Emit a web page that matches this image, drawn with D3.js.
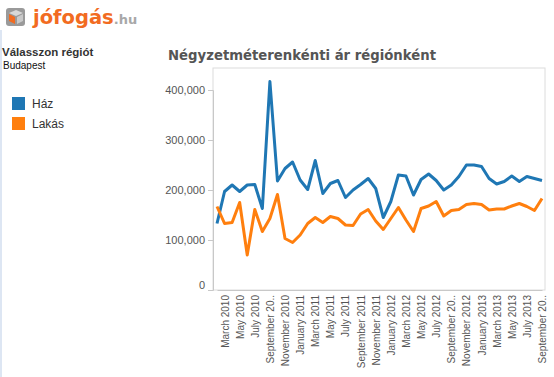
<!DOCTYPE html>
<html lang="hu">
<head>
  <meta charset="UTF-8">
  <title>Négyzetméterenkénti ár régiónként</title>
  <script src="https://d3js.org/d3.v7.min.js"></script>
  <style>
    body { margin: 0; background: #fff; }
    .tick text { font-family: "Liberation Sans", Arial, sans-serif; fill: #555; }
    .title { font-family: "DejaVu Sans", Verdana, sans-serif; font-weight: bold; font-size: 14px; fill: #555; }
  </style>
</head>
<body>
  <div id="chart"></div>
  <script>
    // months from February 2010 to September 2013
    const months = d3.timeMonths(new Date(2010, 1, 1), new Date(2013, 9, 1));

    const haz = [133, 197, 210, 197, 210, 211, 163, 417, 218, 243, 256, 220, 201, 259, 193,
                 213, 219, 185, 200, 211, 223, 203, 145, 177, 230, 228, 190, 221, 232, 219,
                 200, 210, 227, 250, 250, 247, 223, 212, 217, 228, 217, 227, 223, 219].map(v => v * 1000);

    const lakas = [167, 133, 135, 175, 70, 161, 117, 143, 191, 103, 95, 110, 133, 145, 135,
                   147, 143, 130, 129, 152, 161, 138, 121, 143, 165, 140, 117, 163, 168, 177,
                   148, 159, 161, 171, 173, 171, 160, 162, 162, 168, 173, 167, 159, 183].map(v => v * 1000);

    const yTicks = [0, 100000, 200000, 300000, 400000];

    const seriesNames = ["Ház", "Lakás"];
    const colors = ["#1f77b4", "#ff7f0e"];

    // Tableau cuts some labels short
    const fmtMonth = d3.timeFormat("%B %Y");
    const cut = new Set(["2010-08", "2012-08", "2013-08"]);
    function monthLabel(d) {
      const key = d.getFullYear() + "-" + String(d.getMonth()).padStart(2, "0");
      return cut.has(key) ? "September 20.." : fmtMonth(d);
    }

    const width = 554, height = 377;
    const svg = d3.select("#chart").append("svg")
      .attr("width", width).attr("height", height);

    // thin stripe on the left edge
    svg.append("rect").attr("x", 0).attr("y", 30).attr("width", 2).attr("height", height - 30)
      .attr("fill", "#dde6f3");

    // logo
    const logo = svg.append("g").attr("transform", "translate(5,4)");
    logo.append("rect").attr("x", 1).attr("y", 4).attr("width", 19).attr("height", 18)
      .attr("rx", 3).attr("fill", "#9a9a9a");
    logo.append("path").attr("d", "M4 9 L11 6 L18 9 L11 12 Z").attr("fill", "#d8d8d8");
    logo.append("path").attr("d", "M4 10 L10 13 L10 20 L4 17 Z").attr("fill", "#f26b21");
    logo.append("path").attr("d", "M12 13 L18 10 L18 17 L12 20 Z").attr("fill", "#c9c9c9");
    const logoText = logo.append("text").attr("x", 28).attr("y", 20)
      .style("font-family", "'DejaVu Sans', sans-serif").style("font-weight", "bold");
    logoText.append("tspan").attr("fill", "#f26b21").style("font-size", "19.5px").text("jófogás");
    logoText.append("tspan").attr("fill", "#a8a8a8").style("font-size", "13px").text(".hu");

    // region selector
    svg.append("text").attr("x", 2).attr("y", 56)
      .style("font-family", "'Liberation Sans', Arial, sans-serif").style("font-size", "11.5px")
      .style("font-weight", "bold").attr("fill", "#333").text("Válasszon régiót");
    svg.append("text").attr("x", 3).attr("y", 69)
      .style("font-family", "'Liberation Sans', Arial, sans-serif").style("font-size", "10px")
      .attr("fill", "#111").text("Budapest");

    // legend
    const legend = svg.append("g").attr("transform", "translate(12,97)");
    seriesNames.forEach((name, i) => {
      legend.append("rect").attr("x", 0).attr("y", i * 20).attr("width", 13).attr("height", 13)
        .attr("fill", colors[i]);
      legend.append("text").attr("x", 20).attr("y", i * 20 + 11)
        .style("font-family", "'Liberation Sans', Arial, sans-serif").style("font-size", "12px")
        .attr("fill", "#333").text(name);
    });

    // title
    svg.append("text").attr("class", "title").attr("x", 168).attr("y", 60)
      .attr("textLength", 268).attr("lengthAdjust", "spacingAndGlyphs")
      .text("Négyzetméterenkénti ár régiónként");

    const plot = { left: 213, right: 545, top: 68, bottom: 290 };

    const x = d3.scalePoint()
      .domain(months.map(d => +d))
      .range([plot.left + 4, plot.right - 3]);

    const y = d3.scaleLinear()
      .domain([0, 400000])
      .range([plot.bottom, plot.bottom - 200]);

    // frame
    svg.append("rect")
      .attr("x", plot.left).attr("y", plot.top)
      .attr("width", plot.right - plot.left).attr("height", plot.bottom - plot.top)
      .attr("fill", "none").attr("stroke", "#dcdcdc");

    // y axis
    const yAxis = svg.append("g")
      .attr("transform", `translate(${plot.left},0)`)
      .call(d3.axisLeft(y).tickValues(yTicks).tickSize(5).tickPadding(3)
        .tickFormat(d3.format(",")));
    yAxis.select(".domain").attr("stroke", "#c8c8c8");
    yAxis.selectAll(".tick line").attr("stroke", "#c8c8c8");
    yAxis.selectAll(".tick text").style("font-size", "11px");
    yAxis.selectAll(".tick").filter(d => d === 0).select("text").attr("dy", "-0.1em");

    // x axis, every second month labelled
    const labelled = months.filter((d, i) => i % 2 === 1).map(d => +d);
    const xAxis = svg.append("g")
      .attr("transform", `translate(0,${plot.bottom})`)
      .call(d3.axisBottom(x).tickValues(labelled).tickSize(0).tickPadding(5)
        .tickFormat(d => monthLabel(new Date(d))));
    xAxis.select(".domain").attr("stroke", "#c8c8c8");
    xAxis.selectAll(".tick text")
      .style("font-size", "10px")
      .attr("text-anchor", "end")
      .attr("transform", "rotate(-90)")
      .attr("x", -5).attr("y", 0).attr("dy", "0.35em");

    // lines
    const line = d3.line()
      .x((d, i) => x(+months[i]))
      .y(d => y(d));

    [haz, lakas].forEach((vals, i) => {
      svg.append("path")
        .datum(vals)
        .attr("fill", "none")
        .attr("stroke", colors[i])
        .attr("stroke-width", 3)
        .attr("stroke-linejoin", "round")
        .attr("d", line);
    });
  </script>
</body>
</html>
